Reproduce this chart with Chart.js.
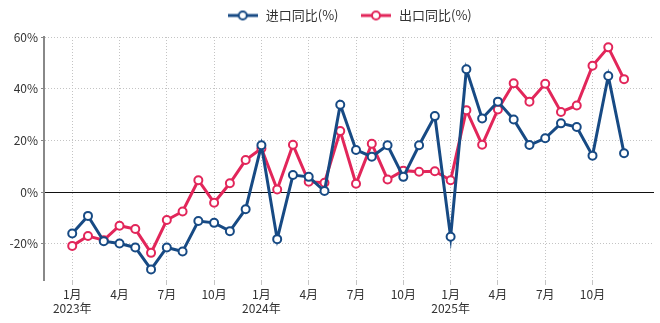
<!DOCTYPE html>
<html>
<head>
<meta charset="utf-8">
<script src="https://cdn.jsdelivr.net/npm/chart.js@4"></script>
<style>
  html, body { margin: 0; padding: 0; background: #fff; }
  #wrap { width: 660px; height: 323px; }
</style>
</head>
<body>
<div id="wrap"><canvas id="chart" width="660" height="323"></canvas></div>
<script>
// 2023-01 .. 2025-12
const startYear = 2023;

const importYoY = [
  -16.0, -9.2, -19.0, -19.9, -21.4, -29.9, -21.4, -23.0, -11.2, -11.9, -15.1, -6.6,
  18.1, -18.2, 6.6, 5.9, 0.4, 33.8, 16.3, 13.7, 18.1, 5.9, 18.1, 29.4,
  -17.3, 47.5, 28.5, 35.0, 28.1, 18.2, 20.8, 26.6, 25.2, 14.1, 44.9, 15.0
];
const exportYoY = [
  -20.8, -17.0, -18.6, -13.0, -14.3, -23.5, -10.8, -7.5, 4.6, -4.1, 3.4, 12.4,
  16.9, 1.0, 18.3, 4.0, 3.6, 23.6, 3.2, 18.7, 4.9, 8.3, 7.9, 8.1,
  4.6, 31.7, 18.3, 32.0, 42.1, 35.0, 41.9, 31.0, 33.5, 48.9, 56.0, 43.7
];

const xTicks = [0, 3, 6, 9, 12, 15, 18, 21, 24, 27, 30, 33];
const yTicks = [-20, 0, 20, 40, 60];

const blue = "#174a84";
const red = "#e2265a";
const font = "'Noto Sans CJK SC', 'Noto Sans', sans-serif";

function legendIcon(color) {
  const c = document.createElement("canvas");
  c.width = 30;
  c.height = 12;
  const g = c.getContext("2d");
  g.strokeStyle = color;
  g.lineWidth = 3;
  g.beginPath();
  g.moveTo(0, 6);
  g.lineTo(30, 6);
  g.stroke();
  g.fillStyle = "#fff";
  g.lineWidth = 2;
  g.beginPath();
  g.arc(15, 6, 4, 0, Math.PI * 2);
  g.fill();
  g.stroke();
  return c;
}

function toPoints(arr) {
  return arr.map((v, i) => ({ x: i, y: v }));
}

function series(label, values, color) {
  return {
    label: label,
    data: toPoints(values),
    borderColor: color,
    backgroundColor: "#fff",
    borderWidth: 3,
    pointStyle: "circle",
    pointRadius: 4,
    pointBorderWidth: 2,
    pointBackgroundColor: "#fff",
    pointBorderColor: color,
    tension: 0
  };
}

// keep legend height fixed even with wide item padding
const legendHeight = {
  id: "legendHeight",
  beforeLayout(chart) {
    const lg = chart.legend;
    if (lg && !lg._fixed) {
      const fit = lg.fit;
      lg.fit = function () {
        fit.call(this);
        this.height = 49;
      };
      lg._fixed = true;
    }
  }
};

Chart.defaults.font.family = font;
Chart.defaults.color = "#333";

new Chart(document.getElementById("chart"), {
  type: "line",
  data: {
    datasets: [
      series("进口同比(%)", importYoY, blue),
      series("出口同比(%)", exportYoY, red)
    ]
  },
  plugins: [legendHeight],
  options: {
    responsive: false,
    animation: false,
    layout: { padding: { left: 0, right: 4, top: -12, bottom: 0 } },
    plugins: {
      tooltip: { enabled: false },
      legend: {
        position: "top",
        fullSize: false,
        labels: {
          font: { size: 13 },
          color: "#333",
          usePointStyle: true,
          pointStyleWidth: 33,
          padding: 21,
          generateLabels: chart => chart.data.datasets.map((ds, i) => ({
            text: ds.label,
            pointStyle: legendIcon(ds.borderColor),
            fillStyle: ds.borderColor,
            strokeStyle: ds.borderColor,
            lineWidth: 0,
            hidden: false,
            datasetIndex: i,
            fontColor: "#333"
          }))
        }
      }
    },
    scales: {
      x: {
        type: "linear",
        min: -1.79,
        max: 36.9,
        afterBuildTicks: s => { s.ticks = xTicks.map(v => ({ value: v })); },
        afterFit: s => { s.height = 43; },
        ticks: {
          font: { size: 12 },
          color: "#333",
          padding: 2,
          maxRotation: 0,
          autoSkip: false,
          callback: v => {
            const m = v % 12 + 1;
            if (m === 1) return [m + "月", (startYear + v / 12) + "年"];
            return m + "月";
          }
        },
        grid: {
          color: "#c4c4c4",
          lineWidth: 1,
          drawTicks: true,
          tickLength: 5,
          tickColor: "#c4c4c4"
        },
        border: { display: false, dash: [1, 2] }
      },
      y: {
        min: -34,
        max: 60,
        afterBuildTicks: s => { s.ticks = yTicks.map(v => ({ value: v })); },
        afterFit: s => { s.width = 44; },
        ticks: {
          font: { size: 12 },
          color: "#333",
          padding: 3,
          callback: v => v + "%"
        },
        grid: {
          color: ctx => (ctx.tick && ctx.tick.value === 0 ? "#111" : "#c4c4c4"),
          lineWidth: 1,
          drawTicks: true,
          tickLength: 3,
          tickColor: "#888"
        },
        border: {
          display: true,
          color: "#888",
          width: 2,
          dash: ctx => (ctx.tick && ctx.tick.value === 0 ? [] : [1, 2])
        }
      }
    }
  }
});
</script>
</body>
</html>
